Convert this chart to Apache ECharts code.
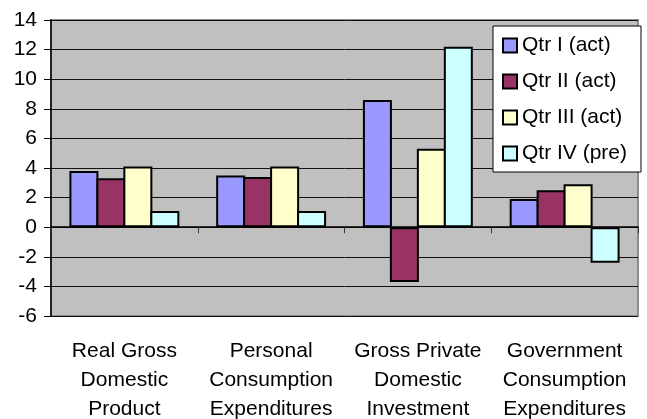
<!DOCTYPE html>
<html>
<head>
<meta charset="utf-8">
<script src="https://cdn.jsdelivr.net/npm/echarts@6.0.0/dist/echarts.min.js"></script>
<style>
  html, body { margin: 0; padding: 0; background: #ffffff; }
  #chart { width: 647px; height: 419px; }
</style>
</head>
<body>
<div id="chart"></div>
<script>
// categories (line breaks as in the original)
var categories = [
  'Real Gross\nDomestic\nProduct',
  'Personal\nConsumption\nExpenditures',
  'Gross Private\nDomestic\nInvestment',
  'Government\nConsumption\nExpenditures'
]
var seriesNames = ['Qtr I (act)', 'Qtr II (act)', 'Qtr III (act)', 'Qtr IV (pre)']
var qtr1 = [3.8, 3.5, 8.6, 1.9]
var qtr2 = [3.3, 3.4, -3.7, 2.5]
var qtr3 = [4.1, 4.1, 5.3, 2.9]
var qtr4 = [1.1, 1.1, 12.2, -2.4]
var colors = ['#9999FF', '#993366', '#FFFFCC', '#CCFFFF']

var font = "'Liberation Sans', Arial, sans-serif"
var values = [qtr1, qtr2, qtr3, qtr4]

var series = []
for (var i = 0; i < values.length; i++) {
  series.push({
    name: seriesNames[i],
    type: 'bar',
    xAxisIndex: 0,
    data: values[i],
    barWidth: 29,
    barGap: '-7%',
    itemStyle: {
      color: colors[i],
      borderColor: '#000',
      borderWidth: 2
    }
  })
}

var chart = echarts.init(document.getElementById('chart'))
chart.setOption({
  animation: false,
  textStyle: { fontFamily: font },
  grid: {
    left: 51, right: 9, top: 20, bottom: 103,
    outerBoundsMode: 'none',
    show: true,
    backgroundColor: '#C0C0C0',
    borderColor: '#8c8c8c',
    borderWidth: 2
  },
  legend: {
    orient: 'vertical',
    left: 493,
    top: 26,
    backgroundColor: '#ffffff',
    borderColor: '#000',
    borderWidth: 1,
    padding: [9, 14, 8, 9],
    itemWidth: 14,
    itemHeight: 14,
    itemGap: 15,
    icon: 'rect',
    textStyle: { fontSize: 21, color: '#000', fontFamily: font },
    data: seriesNames
  },
  xAxis: [
    {
      type: 'category',
      data: categories,
      position: 'bottom',
      axisLine: { show: false, onZero: false },
      axisTick: { show: false },
      splitLine: { show: false },
      axisLabel: {
        margin: 21,
        fontSize: 21,
        lineHeight: 29,
        color: '#000',
        fontFamily: font,
        interval: 0
      }
    },
    {
      // zero line with the category ticks
      type: 'category',
      data: categories,
      position: 'top',
      axisLine: { show: true, onZero: true, lineStyle: { color: '#000', width: 1.5 } },
      axisTick: { show: true, inside: true, length: 6, lineStyle: { color: '#333' } },
      axisLabel: { show: false },
      splitLine: { show: false }
    }
  ],
  yAxis: {
    type: 'value',
    min: -6,
    max: 14,
    interval: 2,
    axisLine: { show: true, lineStyle: { color: '#000', width: 1.5 } },
    axisTick: { show: true, length: 7, lineStyle: { color: '#000' } },
    axisLabel: { margin: 14, fontSize: 21, color: '#000', fontFamily: font },
    splitLine: { show: true, lineStyle: { color: '#111', width: 1 } }
  },
  series: series
})
</script>
</body>
</html>
